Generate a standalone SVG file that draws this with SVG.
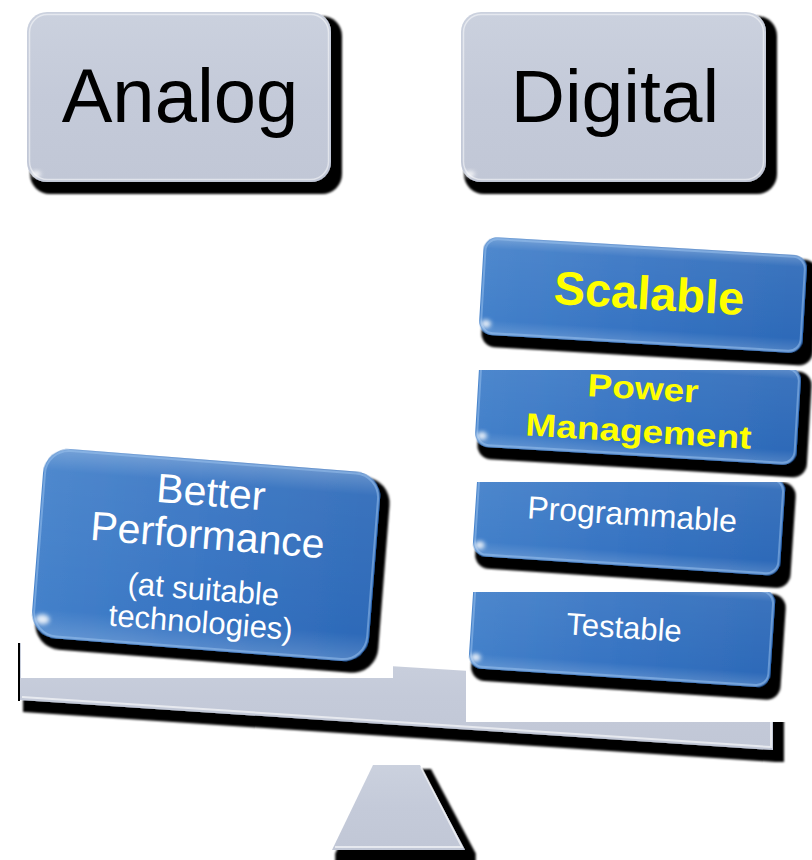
<svg xmlns="http://www.w3.org/2000/svg" width="812" height="860" viewBox="0 0 812 860">
<defs>
  <style>
    .sans { font-family: "Liberation Sans", Arial, sans-serif; }
    .gray { fill: url(#grayGrad); }
    .blue { fill: url(#blueGrad); }
    .gloss { fill: url(#glossGrad); }
    .rim { fill: none; stroke: #ffffff; stroke-opacity: 0.5; stroke-width: 1.5; }
    .bluerim { fill: none; stroke: #9cc3f0; stroke-opacity: 0.5; stroke-width: 2; }
    .spot { fill: #ffffff; opacity: 0.85; filter: url(#soft); }
    .big { font-size: 76px; fill: #000000; text-anchor: middle; }
    .yellow { fill: #ffff00; font-weight: bold; text-anchor: middle; }
    .white { fill: #ffffff; text-anchor: middle; }
  </style>
  <linearGradient id="grayGrad" x1="0" y1="0" x2="0" y2="1">
    <stop offset="0" stop-color="#cbd1de"/>
    <stop offset="0.5" stop-color="#c4cad9"/>
    <stop offset="1" stop-color="#c1c7d6"/>
  </linearGradient>
  <linearGradient id="blueGrad" x1="0" y1="0" x2="1" y2="0">
    <stop offset="0" stop-color="#4481ca"/>
    <stop offset="0.5" stop-color="#3673c2"/>
    <stop offset="1" stop-color="#2d6ab8"/>
  </linearGradient>
  <linearGradient id="glossGrad" x1="0" y1="0" x2="0" y2="1">
    <stop offset="0" stop-color="#ffffff" stop-opacity="0.28"/>
    <stop offset="0.12" stop-color="#ffffff" stop-opacity="0.06"/>
    <stop offset="0.85" stop-color="#ffffff" stop-opacity="0"/>
    <stop offset="1" stop-color="#ffffff" stop-opacity="0.18"/>
  </linearGradient>
  <filter id="shadow" x="-10%" y="-15%" width="125%" height="145%">
    <feMorphology in="SourceAlpha" operator="dilate" radius="3.5" result="d"/>
    <feOffset in="d" dx="7" dy="8" result="o"/>
    <feGaussianBlur in="o" stdDeviation="1" result="b"/>
    <feMerge><feMergeNode in="b"/><feMergeNode in="SourceGraphic"/></feMerge>
  </filter>
  <filter id="soft" x="-50%" y="-50%" width="200%" height="200%">
    <feGaussianBlur stdDeviation="2"/>
  </filter>
  <clipPath id="clipPM"><rect x="440" y="370" width="372" height="120"/></clipPath>
  <clipPath id="clipProg"><rect x="440" y="482" width="372" height="120"/></clipPath>
  <clipPath id="clipTest"><rect x="440" y="592" width="372" height="120"/></clipPath>
</defs>

<g id="beam">
  <polygon points="20,643 773,690 773,750 20,700" class="gray" filter="url(#shadow)"/>
  <line x1="19" y1="643" x2="19" y2="701" stroke="#000000" stroke-width="2"/>
  <polyline points="22,697 771,747 771,692" fill="none" stroke="#ffffff" stroke-opacity="0.6" stroke-width="2"/>
</g>
<g id="fulcrum">
  <polygon points="373,765 420,765 465,850 332,850" class="gray" filter="url(#shadow)"/>
  <polyline points="421,767 462,847 335,847" fill="none" stroke="#ffffff" stroke-opacity="0.6" stroke-width="2"/>
</g>

<!-- white backgrounds of the stacked pictures -->
<rect x="21" y="425" width="372" height="253" fill="#ffffff"/>
<rect x="466" y="225" width="346" height="497" fill="#ffffff"/>

<g id="analog">
  <rect x="27" y="12" width="304" height="170" rx="20" class="gray" filter="url(#shadow)"/>
  <rect x="29.5" y="14.5" width="299" height="165" rx="18" class="rim"/>
  <ellipse cx="36" cy="174" rx="5" ry="3" class="spot"/>
  <text x="180" y="122" class="sans big">Analog</text>
</g>

<g id="digital">
  <rect x="461" y="12" width="305" height="170" rx="20" class="gray" filter="url(#shadow)"/>
  <rect x="463.5" y="14.5" width="300" height="165" rx="18" class="rim"/>
  <ellipse cx="470" cy="174" rx="5" ry="3" class="spot"/>
  <text x="615" y="122" class="sans big" style="font-size:75px">Digital</text>
</g>

<g id="better-performance">
  <g transform="translate(206,556) rotate(4.5)">
    <rect x="-169" y="-96" width="338" height="190" rx="26" class="blue" filter="url(#shadow)"/>
    <rect x="-169" y="-96" width="338" height="190" rx="26" class="gloss"/>
    <rect x="-167" y="-94" width="334" height="186" rx="24" class="bluerim"/>
    <ellipse cx="-158" cy="76" rx="7" ry="5" class="spot"/>
    <text x="0" y="-50" class="sans white" style="font-size:41px">Better</text>
    <text x="0" y="-7" class="sans white" style="font-size:41px">Performance</text>
    <text x="0" y="44" class="sans white" style="font-size:31px">(at suitable</text>
    <text x="0" y="77" class="sans white" style="font-size:31px">technologies)</text>
  </g>
</g>

<g id="testable" clip-path="url(#clipTest)">
  <g transform="translate(622,629) rotate(3.8)">
    <rect x="-151" y="-49" width="302" height="98" rx="14" class="blue" filter="url(#shadow)"/>
    <rect x="-151" y="-49" width="302" height="98" rx="14" class="gloss"/>
    <rect x="-149" y="-47" width="298" height="94" rx="12" class="bluerim"/>
    <ellipse cx="-144" cy="38" rx="5" ry="4" class="spot"/>
    <text x="2" y="9" class="sans white" style="font-size:31px">Testable</text>
  </g>
</g>

<g id="programmable" clip-path="url(#clipProg)">
  <g transform="translate(629,517) rotate(3.8)">
    <rect x="-154" y="-49" width="308" height="98" rx="14" class="blue" filter="url(#shadow)"/>
    <rect x="-154" y="-49" width="308" height="98" rx="14" class="gloss"/>
    <rect x="-152" y="-47" width="304" height="94" rx="12" class="bluerim"/>
    <ellipse cx="-147" cy="38" rx="5" ry="4" class="spot"/>
    <text x="3" y="8" class="sans white" style="font-size:32px">Programmable</text>
  </g>
</g>

<g id="power-management" clip-path="url(#clipPM)">
  <g transform="translate(638,407) rotate(3.4)">
    <rect x="-161" y="-49" width="322" height="98" rx="14" class="blue" filter="url(#shadow)"/>
    <rect x="-161" y="-49" width="322" height="98" rx="14" class="gloss"/>
    <rect x="-159" y="-47" width="318" height="94" rx="12" class="bluerim"/>
    <ellipse cx="-154" cy="38" rx="5" ry="4" class="spot"/>
    <text x="4" y="-8" class="sans yellow" style="font-size:32px" textLength="111" lengthAdjust="spacingAndGlyphs">Power</text>
    <text x="2" y="35" class="sans yellow" style="font-size:32px" textLength="226" lengthAdjust="spacingAndGlyphs">Management</text>
  </g>
</g>

<g id="scalable">
  <g transform="translate(643,295) rotate(3.4)">
    <rect x="-162" y="-49" width="324" height="98" rx="14" class="blue" filter="url(#shadow)"/>
    <rect x="-162" y="-49" width="324" height="98" rx="14" class="gloss"/>
    <rect x="-160" y="-47" width="320" height="94" rx="12" class="bluerim"/>
    <ellipse cx="-155" cy="38" rx="5" ry="4" class="spot"/>
    <text x="6" y="14" class="sans yellow" style="font-size:47px">Scalable</text>
  </g>
</g>
</svg>
